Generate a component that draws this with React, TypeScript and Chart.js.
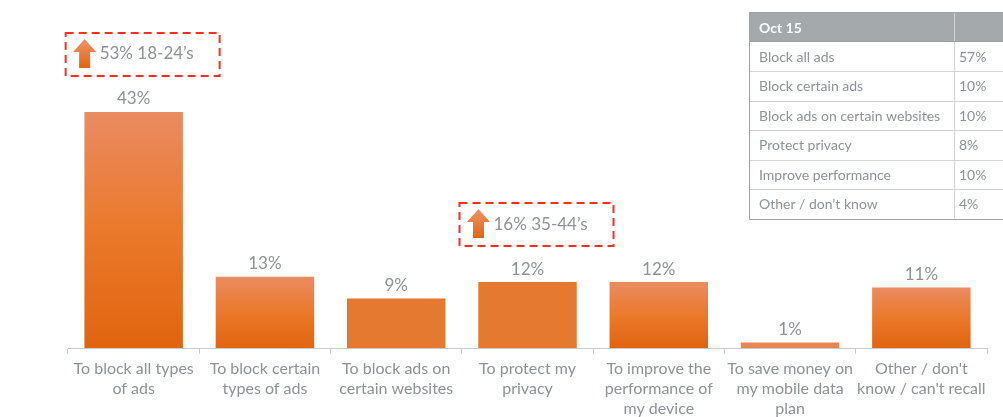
import React, { useEffect, useRef } from "react";
import { Chart, registerables } from "chart.js";

Chart.register(...registerables);

const categories: string[][] = [
  ["To block all types", "of ads"],
  ["To block certain", "types of ads"],
  ["To block ads on", "certain websites"],
  ["To protect my", "privacy"],
  ["To improve the", "performance of", "my device"],
  ["To save money on", "my mobile data", "plan"],
  ["Other / don't", "know / can't recall"],
];
const values: number[] = [43, 13, 9, 12, 12, 1, 11];
const gradientBars: boolean[] = [true, true, false, false, true, false, true];

const calloutIndex: number[] = [0, 3];
const calloutText: string[] = ["53% 18-24\u2019s", "16% 35-44\u2019s"];

const tableHeader = "Oct 15";
const tableLabels: string[] = [
  "Block all ads",
  "Block certain ads",
  "Block ads on certain websites",
  "Protect privacy",
  "Improve performance",
  "Other / don\u2019t know",
];
const tableValues: string[] = ["57%", "10%", "10%", "8%", "10%", "4%"];

const FONT = "Lato, 'Open Sans', sans-serif";
const GRAY = "#8d9398";

function drawArrow(ctx: CanvasRenderingContext2D, x: number, top: number, bottom: number) {
  const headW = 23;
  const shaftW = 11;
  const headH = 13;
  const g = ctx.createLinearGradient(0, top, 0, bottom);
  g.addColorStop(0, "#ec956b");
  g.addColorStop(1, "#e2640f");
  ctx.fillStyle = g;
  ctx.beginPath();
  ctx.moveTo(x, top);
  ctx.lineTo(x + headW / 2, top + headH);
  ctx.lineTo(x + shaftW / 2, top + headH);
  ctx.lineTo(x + shaftW / 2, bottom);
  ctx.lineTo(x - shaftW / 2, bottom);
  ctx.lineTo(x - shaftW / 2, top + headH);
  ctx.lineTo(x - headW / 2, top + headH);
  ctx.closePath();
  ctx.fill();
}

const overlayPlugin = {
  id: "overlay",
  afterDatasetsDraw(chart: any) {
    const ctx: CanvasRenderingContext2D = chart.ctx;
    const xs = chart.scales.x;
    const ys = chart.scales.y;
    ctx.save();
    // value labels
    ctx.font = `17px ${FONT}`;
    ctx.fillStyle = GRAY;
    ctx.textAlign = "center";
    ctx.textBaseline = "middle";
    values.forEach((v, i) => {
      const x = xs.getPixelForValue(i);
      const y = ys.getPixelForValue(v);
      ctx.fillText(`${v}%`, x, y - 13);
    });
    // callouts
    calloutIndex.forEach((idx, k) => {
      const cx = xs.getPixelForValue(idx);
      const top = ys.getPixelForValue(values[idx]);
      const bottom = top - 36;
      const boxTop = bottom - 43;
      const left = cx - 68;
      const w = 154;
      ctx.setLineDash([8, 5]);
      ctx.lineWidth = 2;
      ctx.strokeStyle = "#ff2d1e";
      ctx.strokeRect(left, boxTop, w, 43);
      ctx.setLineDash([]);
      drawArrow(ctx, left + 19, boxTop + 6, boxTop + 35);
      ctx.font = `17px ${FONT}`;
      ctx.fillStyle = GRAY;
      ctx.textAlign = "left";
      ctx.textBaseline = "middle";
      ctx.fillText(calloutText[k], left + 34, boxTop + 21);
    });
    // table
    const tx = 749.5;
    const tr = 1010;
    const colX = 954.5;
    const headTop = 12.5;
    const headH = 29;
    const rowH = 29.5;
    ctx.fillStyle = "#a4a9ac";
    ctx.fillRect(tx, headTop, tr - tx, headH);
    ctx.fillStyle = "#ffffff";
    ctx.fillRect(tx, headTop + headH, tr - tx, rowH * tableLabels.length);
    ctx.lineWidth = 1;
    ctx.strokeStyle = "#d2d4d6";
    for (let i = 1; i < tableLabels.length; i++) {
      const y = Math.round(headTop + headH + rowH * i) + 0.5;
      ctx.beginPath();
      ctx.moveTo(tx, y);
      ctx.lineTo(tr, y);
      ctx.stroke();
    }
    ctx.beginPath();
    ctx.moveTo(colX, headTop);
    ctx.lineTo(colX, headTop + headH + rowH * tableLabels.length);
    ctx.stroke();
    ctx.strokeStyle = "#9ea3a6";
    const tb = Math.round(headTop + headH + rowH * tableLabels.length) + 0.5;
    ctx.beginPath();
    ctx.moveTo(tx, headTop);
    ctx.lineTo(tr, headTop);
    ctx.moveTo(tx, headTop);
    ctx.lineTo(tx, tb);
    ctx.lineTo(tr, tb);
    ctx.moveTo(tx, headTop + headH);
    ctx.lineTo(tr, headTop + headH);
    ctx.stroke();
    ctx.textAlign = "left";
    ctx.textBaseline = "middle";
    ctx.font = `bold 14px ${FONT}`;
    ctx.fillStyle = "#ffffff";
    ctx.fillText(tableHeader, 759, headTop + headH / 2 + 1);
    ctx.font = `14px ${FONT}`;
    ctx.fillStyle = GRAY;
    tableLabels.forEach((l, i) => {
      const yc = headTop + headH + rowH * i + rowH / 2 + 1;
      ctx.fillText(l, 759, yc);
      ctx.fillText(tableValues[i], 959, yc);
    });
    ctx.restore();
  },
};

export default function App() {
  const ref = useRef<HTMLCanvasElement | null>(null);
  useEffect(() => {
    if (!ref.current) return;
    const chart = new Chart(ref.current, {
      type: "bar",
      data: {
        labels: categories,
        datasets: [
          {
            data: values,
            backgroundColor: (c: any) => {
              const i = c.dataIndex;
              const chart = c.chart;
              if (i === undefined || !chart.chartArea) return "#e5782f";
              if (!gradientBars[i]) return i === 5 ? "#e98553" : "#e5792f";
              const ys = chart.scales.y;
              const top = ys.getPixelForValue(values[i]);
              const bottom = ys.getPixelForValue(0);
              const g = chart.ctx.createLinearGradient(0, top, 0, bottom);
              g.addColorStop(0, "#ea8b62");
              g.addColorStop(0.5, "#ea792b");
              g.addColorStop(1, "#e1640f");
              return g;
            },
            borderWidth: 0,
            barPercentage: 0.75,
            categoryPercentage: 1,
          },
        ],
      },
      options: {
        animation: false,
        responsive: false,
        maintainAspectRatio: false,
        layout: { padding: { left: 68, right: 16, top: 73.5, bottom: 0 } },
        plugins: { legend: { display: false }, tooltip: { enabled: false } },
        scales: {
          x: {
            grid: {
              display: true,
              drawOnChartArea: false,
              drawTicks: true,
              tickLength: 6,
              color: "#c8cacc",
            },
            border: { display: true, color: "#c8cacc", width: 1 },
            ticks: {
              color: GRAY,
              font: { family: FONT, size: 16, lineHeight: 1.25 },
              padding: 5,
              maxRotation: 0,
              autoSkip: false,
            },
            afterFit: (s: any) => {
              s.height = 69;
            },
          },
          y: { display: false, min: 0, max: 50 },
        },
      },
      plugins: [overlayPlugin],
    });
    return () => chart.destroy();
  }, []);
  return (
    <div style={{ position: "fixed", left: 0, top: 0, width: 1003, height: 417, overflow: "hidden", background: "#fff" }}>
      <canvas ref={ref} width={1003} height={417} style={{ display: "block", width: 1003, height: 417 }} />
    </div>
  );
}
